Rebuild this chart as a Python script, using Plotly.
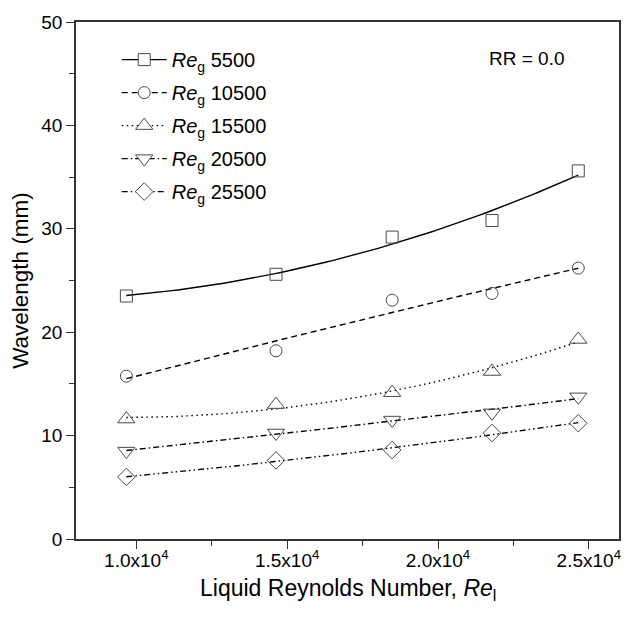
import numpy as np
import plotly.graph_objects as go

# Data
re_l = [9670, 14630, 18480, 21790, 24650]
series_names = ["5500", "10500", "15500", "20500", "25500"]
wl_5500 = [23.5, 25.6, 29.2, 30.8, 35.6]
wl_10500 = [15.75, 18.2, 23.1, 23.75, 26.2]
wl_15500 = [11.6, 13.0, 14.15, 16.2, 19.3]
wl_20500 = [8.5, 10.25, 11.5, 12.2, 13.75]
wl_25500 = [6.0, 7.6, 8.6, 10.25, 11.2]

x_tickvals = [10000, 15000, 20000, 25000]
x_ticktext = ["1.0x10<sup>4</sup>", "1.5x10<sup>4</sup>", "2.0x10<sup>4</sup>", "2.5x10<sup>4</sup>"]
y_tickvals = [0, 10, 20, 30, 40, 50]

all_series = [wl_5500, wl_10500, wl_15500, wl_20500, wl_25500]
symbols = ["square-open", "circle-open", "triangle-up-open", "triangle-down-open", "diamond-open"]
legend_symbols = ["square", "circle", "triangle-up", "triangle-down", "diamond"]
sizes = [12, 12, 15, 15, 13.5]
dashes = ["solid", "6px,4px", "1.5px,3.5px", "6px,3px,1.5px,3px", "6px,3px,1.5px,3px,1.5px,3px"]

FONT = "Liberation Sans, Arial, sans-serif"
MK = "#4a4a4a"

fig = go.Figure()
xa = np.array(re_l, dtype=float)
xfit = np.linspace(xa.min(), xa.max(), 80)
for i, (name, ys, sym, lsym, sz, dash) in enumerate(zip(series_names, all_series, symbols, legend_symbols, sizes, dashes)):
    coef = np.polyfit(xa / 1e4, np.array(ys), 2)
    yfit = np.polyval(coef, xfit / 1e4)
    fig.add_trace(go.Scatter(x=xfit, y=yfit, mode="lines", showlegend=False,
                             line=dict(color="black", width=1.4, dash=dash), hoverinfo="skip"))
    fig.add_trace(go.Scatter(x=re_l, y=ys, mode="markers", showlegend=False,
                             marker=dict(symbol=sym, size=sz, color=MK, line=dict(width=1, color=MK))))
    # legend-only entry
    fig.add_trace(go.Scatter(x=[None], y=[None], mode="lines+markers",
                             name="<i>Re</i><sub>g</sub> " + name, legendgroup="g%d" % i,
                             line=dict(color="black", width=1.4, dash=dash),
                             marker=dict(symbol=lsym, size=sz, color="white", line=dict(width=1, color=MK))))

axis_common = dict(showline=True, linecolor="#333333", linewidth=1.5, mirror=True,
                   ticks="outside", ticklen=8, tickwidth=1.2, tickcolor="#333333",
                   showgrid=False, zeroline=False,
                   tickfont=dict(family=FONT, size=19, color="black"))

fig.update_xaxes(range=[8000, 26000], tickmode="array", tickvals=x_tickvals, ticktext=x_ticktext,
                 minor=dict(dtick=2500, tick0=0, ticks="outside", ticklen=5, tickcolor="#333333"),
                 ticklabelstandoff=-5,
                 **axis_common)
fig.update_yaxes(range=[0, 50], tickmode="array", tickvals=y_tickvals,
                 minor=dict(dtick=5, tick0=0, ticks="outside", ticklen=5, tickcolor="#333333"),
                 title=dict(text="Wavelength (mm)", font=dict(family=FONT, size=22.5, color="black"), standoff=6),
                 **axis_common)

fig.add_annotation(x=0.5, y=0, xref="paper", yref="paper", yshift=-34,
                   text="Liquid Reynolds Number, <i>Re</i><sub>l</sub>", showarrow=False,
                   font=dict(family=FONT, size=23, color="black"), xanchor="center", yanchor="top")

fig.add_annotation(x=0.83, y=0.93, xref="paper", yref="paper", text="RR = 0.0", showarrow=False,
                   font=dict(family=FONT, size=19, color="black"), xanchor="center", yanchor="middle")

fig.update_layout(width=633, height=622, margin=dict(l=76, r=12, t=19, b=83),
                  paper_bgcolor="white", plot_bgcolor="white",
                  legend=dict(x=0.075, y=0.965, xanchor="left", yanchor="top", bgcolor="rgba(0,0,0,0)",
                              font=dict(family=FONT, size=20, color="black"), itemwidth=45,
                              tracegroupgap=4),
                  showlegend=True)

fig.write_html("out.html")
